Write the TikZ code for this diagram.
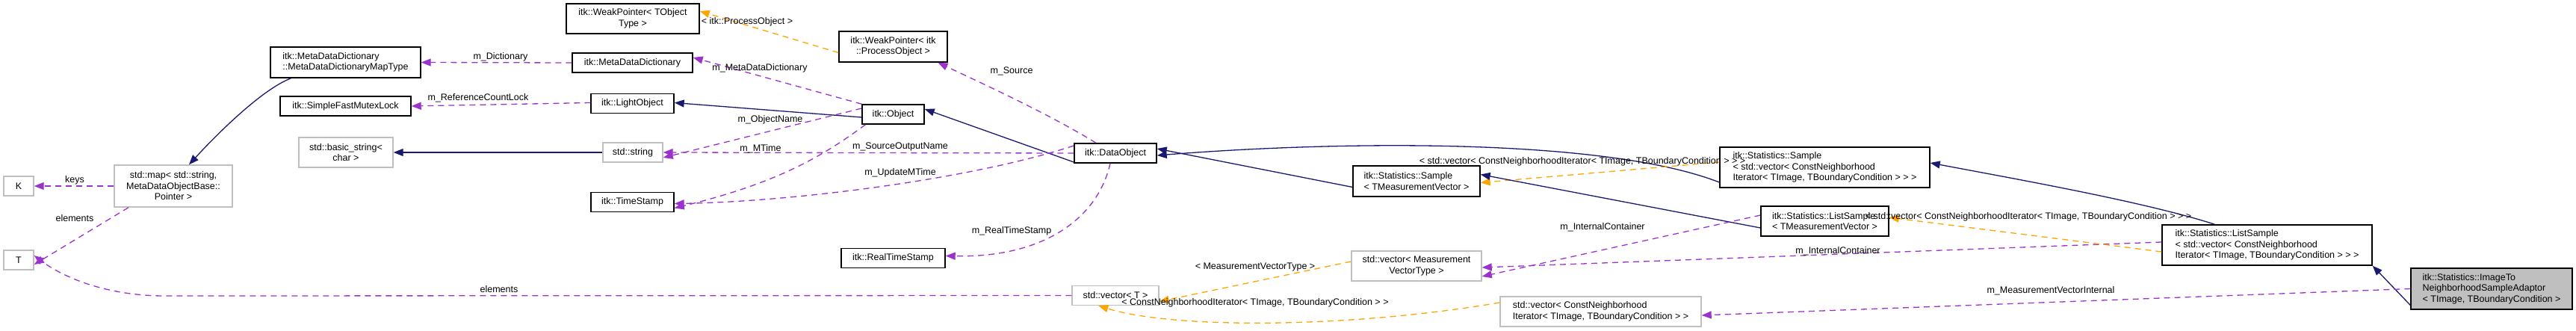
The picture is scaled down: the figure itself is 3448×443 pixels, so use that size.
\documentclass[tikz,border=0pt]{standalone}
\usepackage{fontspec}
\setmainfont{Liberation Sans}
\usetikzlibrary{arrows.meta}
\definecolor{inh}{HTML}{191970}
\definecolor{use}{HTML}{9A32CD}
\definecolor{tpl}{HTML}{FFA500}
\definecolor{gb}{HTML}{BFBFBF}
\tikzset{
  x=1pt,y=-1pt,
  every node/.style={font=\fontsize{12.5}{14.5}\selectfont},
  cls/.style={draw=black,line width=1.4pt,inner sep=0pt,align=center,fill=white},
  ext/.style={cls,draw=gb},
  lft/.style={align=left},
  inhe/.style={draw=inh,line width=1.3pt,-{Triangle[length=13pt,width=10pt]}},
  usee/.style={draw=use,line width=1.3pt,dash pattern=on 8pt off 6pt,-{Triangle[length=13pt,width=10pt]}},
  tple/.style={draw=tpl,line width=1.3pt,dash pattern=on 8pt off 6pt,-{Triangle[length=13pt,width=10pt]}},
  lbl/.style={inner sep=1pt,fill=none}
}
\begin{document}
\begin{tikzpicture}
\useasboundingbox (0,0) rectangle (3448,443);
% nodes
\node[ext,minimum width=40,minimum height=26] (K) at (25,249) {K};
\node[ext,minimum width=40,minimum height=26] (T) at (25,348) {T};
\node[ext,minimum width=158,minimum height=56] (smap) at (232,249) {std::map\textless{} std::string,\\MetaDataObjectBase::\\Pointer \textgreater{}};
\node[cls,lft,minimum width=201,minimum height=41] (maptype) at (462.5,83.5) {itk::MetaDataDictionary\\::MetaDataDictionaryMapType};
\node[cls,minimum width=175,minimum height=26] (mutex) at (462.5,142) {itk::SimpleFastMutexLock};
\node[ext,minimum width=126,minimum height=40] (bstring) at (463,204) {std::basic\_string\textless{}\\char \textgreater{}};
\node[cls,minimum width=178,minimum height=40] (wpT) at (847,25) {itk::WeakPointer\textless{} TObject\\Type \textgreater{}};
\node[cls,minimum width=161,minimum height=26] (mdd) at (846.5,84) {itk::MetaDataDictionary};
\node[cls,minimum width=111,minimum height=26] (light) at (846.5,138.5) {itk::LightObject};
\node[ext,minimum width=80,minimum height=26] (sstring) at (847,204) {std::string};
\node[cls,minimum width=111,minimum height=26] (tstamp) at (846.5,270.5) {itk::TimeStamp};
\node[cls,minimum width=145,minimum height=41] (wpPO) at (1195.5,62.5) {itk::WeakPointer\textless{} itk\\::ProcessObject \textgreater{}};
\node[cls,minimum width=83,minimum height=26] (obj) at (1195.5,153) {itk::Object};
\node[cls,minimum width=139,minimum height=26] (rts) at (1195.5,345.5) {itk::RealTimeStamp};
\node[cls,minimum width=110,minimum height=26] (dobj) at (1493,205) {itk::DataObject};
\node[ext,minimum width=116,minimum height=26] (vecT) at (1493,395.5) {std::vector\textless{} T \textgreater{}};
\node[cls,lft,minimum width=170,minimum height=41] (sampTMV) at (1896,242.5) {itk::Statistics::Sample\\\textless{} TMeasurementVector \textgreater{}};
\node[ext,minimum width=174,minimum height=40] (vecMVT) at (1896,356) {std::vector\textless{} Measurement\\VectorType \textgreater{}};
\node[ext,lft,minimum width=269,minimum height=40] (vecCN) at (2142.5,417) {std::vector\textless{} ConstNeighborhood\\Iterator\textless{} TImage, TBoundaryCondition \textgreater{} \textgreater{}};
\node[cls,lft,minimum width=281,minimum height=54] (sampSV) at (2442.5,224) {itk::Statistics::Sample\\\textless{} std::vector\textless{} ConstNeighborhood\\Iterator\textless{} TImage, TBoundaryCondition \textgreater{} \textgreater{} \textgreater{}};
\node[cls,lft,minimum width=171,minimum height=40] (lsTMV) at (2442.5,296) {itk::Statistics::ListSample\\\textless{} TMeasurementVector \textgreater{}};
\node[cls,lft,minimum width=281,minimum height=54] (lsSV) at (3034.5,328) {itk::Statistics::ListSample\\\textless{} std::vector\textless{} ConstNeighborhood\\Iterator\textless{} TImage, TBoundaryCondition \textgreater{} \textgreater{} \textgreater{}};
\node[cls,lft,fill=gb,minimum width=216,minimum height=55] (img) at (3335,386.5) {itk::Statistics::ImageTo\\NeighborhoodSampleAdaptor\\\textless{} TImage, TBoundaryCondition \textgreater{}};
% edges
\draw[inhe] ([xshift=-73]maptype.south) .. controls (350,120) and (290,180) .. ([xshift=21]smap.north);
\draw[usee] (smap.west) -- (K.east);
\draw[usee] ([xshift=-60]smap.south) -- ([yshift=-6]T.east);
\draw[usee] (mdd.west) -- (maptype.east);
\draw[usee] ([yshift=1]light.west) -- (mutex.east);
\draw[inhe] (sstring.west) -- (bstring.east);
\draw[tple] ([yshift=-8]wpPO.west) -- ([yshift=10]wpT.east);
\draw[usee] ([xshift=-42]obj.north) -- ([yshift=7]mdd.east);
\draw[inhe] ([yshift=-4]obj.west) -- ([yshift=1]light.east);
\draw[usee] ([yshift=8]obj.west) -- ([yshift=-7]sstring.east);
\draw[usee] ([xshift=-37]obj.south) .. controls (1100,210) and (1040,245) .. ([yshift=-8]tstamp.east);
\draw[usee] ([xshift=-26]dobj.north) .. controls (1400,150) and (1300,105) .. ([xshift=60]wpPO.south);
\draw[inhe] ([yshift=-12]dobj.west) -- ([yshift=7]obj.east);
\draw[usee] (dobj.west) -- (sstring.east);
\draw[usee] ([yshift=10]dobj.west) .. controls (1300,240) and (1060,270) .. ([yshift=-2]tstamp.east);
\draw[usee] ([xshift=-7]dobj.south) .. controls (1470,290) and (1400,345) .. ([yshift=3]rts.east);
\draw[inhe] ([yshift=-8]sampTMV.west) -- ([yshift=6]dobj.east);
\draw[inhe] ([yshift=-20]sampSV.west) .. controls (2150,185) and (1800,188) .. ([yshift=-3]dobj.east);
\draw[tple] ([yshift=7]sampSV.west) -- ([yshift=-2]sampTMV.east);
\draw[inhe] ([yshift=-9]lsTMV.west) -- ([yshift=9]sampTMV.east);
\draw[usee] ([yshift=8]lsTMV.west) -- ([yshift=-14]vecMVT.east);
\draw[usee] ([yshift=4]lsSV.west) -- ([yshift=-2]vecMVT.east);
\draw[tple] ([yshift=-9]lsSV.west) -- ([yshift=5]lsTMV.east);
\draw[inhe] ([xshift=-70]lsSV.north) .. controls (2870,270) and (2700,240) .. ([yshift=6]sampSV.east);
\draw[inhe] ([yshift=-22]img.west) -- ([xshift=0]lsSV.south east);
\draw[usee] (img.west) -- ([yshift=-5]vecCN.east);
\draw[tple] ([yshift=6]vecMVT.west) -- ([yshift=-8]vecT.east);
\draw[tple] ([yshift=12]vecCN.west) .. controls (1800,440) and (1570,440) .. ([xshift=36]vecT.south west);
\draw[usee] (vecT.west) -- (220,396) .. controls (150,396) and (90,375) .. ([yshift=6]T.east);
% labels
\node[lbl] (lkeys) at (100,241) {keys};
\node[lbl] (lel1) at (100,292) {elements};
\node[lbl] (ldict) at (670,76) {m\_Dictionary};
\node[lbl] (lrcl) at (640,131) {m\_ReferenceCountLock};
\node[lbl] (lpo) at (1000,29) {\textless{} itk::ProcessObject \textgreater{}};
\node[lbl] (lmdd) at (1017,91) {m\_MetaDataDictionary};
\node[lbl] (lon) at (1031,160) {m\_ObjectName};
\node[lbl] (lmt) at (1018,199) {m\_MTime};
\node[lbl] (lsrc) at (1354,95) {m\_Source};
\node[lbl] (lson) at (1205,196) {m\_SourceOutputName};
\node[lbl] (lumt) at (1205,231) {m\_UpdateMTime};
\node[lbl] (lrts) at (1354,309) {m\_RealTimeStamp};
\node[lbl] (lsv1) at (2118,216) {\textless{} std::vector\textless{} ConstNeighborhood\\Iterator\textless{} TImage, TBoundaryCondition \textgreater{} \textgreater{} \textgreater{}};
\node[lbl] (lic1) at (2145,304) {m\_InternalContainer};
\node[lbl] (lic2) at (2460,336) {m\_InternalContainer};
\node[lbl] (lsv2) at (2715,290) {\textless{} std::vector\textless{} ConstNeighborhood\\Iterator\textless{} TImage, TBoundaryCondition \textgreater{} \textgreater{} \textgreater{}};
\node[lbl] (lmvi) at (2745,389) {m\_MeasurementVectorInternal};
\node[lbl] (lmvt) at (1680,357) {\textless{} MeasurementVectorType \textgreater{}};
\node[lbl] (lcni) at (1680,405) {\textless{} ConstNeighborhoodIterator\\\textless{} TImage, TBoundaryCondition \textgreater{} \textgreater{}};
\node[lbl] (lel2) at (668,387) {elements};
\end{tikzpicture}
\end{document}
